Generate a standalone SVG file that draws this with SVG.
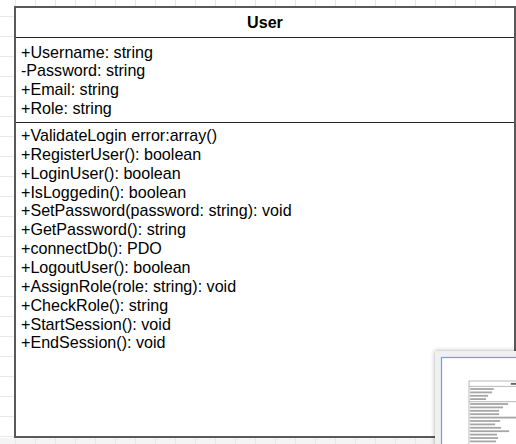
<svg xmlns="http://www.w3.org/2000/svg" width="516" height="444" viewBox="0 0 516 444">
<style>
.grid line{stroke:#e8e8e8;stroke-width:1}
.t{font-family:"Liberation Sans",Arial,Helvetica,sans-serif;font-size:16.1px;fill:#000}
.h{font-weight:bold;text-anchor:middle}
.box{fill:#fff;stroke:#595959;stroke-width:2}
.sep{stroke:#262626;stroke-width:1.2}
.mb{fill:#a6a6a6}
.msep{stroke:#8a8a8a;stroke-width:0.6}
</style>
<defs>
<filter id="sh" x="-20%" y="-20%" width="140%" height="140%">
<feDropShadow dx="0" dy="0" stdDeviation="2.2" flood-color="#000" flood-opacity="0.35"/>
</filter>
<clipPath id="mclip"><rect x="442" y="358" width="74" height="86"/></clipPath>
</defs>
<rect x="0" y="0" width="516" height="444" fill="#fff"/>
<rect x="0" y="438" width="516" height="6" fill="#f4f4f4"/>
<g class="grid">
<line x1="15.5" y1="0" x2="15.5" y2="444"/><line x1="35.5" y1="0" x2="35.5" y2="444"/><line x1="55.5" y1="0" x2="55.5" y2="444"/><line x1="75.5" y1="0" x2="75.5" y2="444"/><line x1="95.5" y1="0" x2="95.5" y2="444"/><line x1="115.5" y1="0" x2="115.5" y2="444"/><line x1="135.5" y1="0" x2="135.5" y2="444"/><line x1="155.5" y1="0" x2="155.5" y2="444"/><line x1="175.5" y1="0" x2="175.5" y2="444"/><line x1="195.5" y1="0" x2="195.5" y2="444"/><line x1="215.5" y1="0" x2="215.5" y2="444"/><line x1="235.5" y1="0" x2="235.5" y2="444"/><line x1="255.5" y1="0" x2="255.5" y2="444"/><line x1="275.5" y1="0" x2="275.5" y2="444"/><line x1="295.5" y1="0" x2="295.5" y2="444"/><line x1="315.5" y1="0" x2="315.5" y2="444"/><line x1="335.5" y1="0" x2="335.5" y2="444"/><line x1="355.5" y1="0" x2="355.5" y2="444"/><line x1="375.5" y1="0" x2="375.5" y2="444"/><line x1="395.5" y1="0" x2="395.5" y2="444"/><line x1="415.5" y1="0" x2="415.5" y2="444"/><line x1="435.5" y1="0" x2="435.5" y2="444"/><line x1="455.5" y1="0" x2="455.5" y2="444"/><line x1="475.5" y1="0" x2="475.5" y2="444"/><line x1="495.5" y1="0" x2="495.5" y2="444"/>
<line x1="0" y1="16.5" x2="516" y2="16.5"/><line x1="0" y1="36.5" x2="516" y2="36.5"/><line x1="0" y1="56.5" x2="516" y2="56.5"/><line x1="0" y1="76.5" x2="516" y2="76.5"/><line x1="0" y1="96.5" x2="516" y2="96.5"/><line x1="0" y1="116.5" x2="516" y2="116.5"/><line x1="0" y1="136.5" x2="516" y2="136.5"/><line x1="0" y1="156.5" x2="516" y2="156.5"/><line x1="0" y1="176.5" x2="516" y2="176.5"/><line x1="0" y1="196.5" x2="516" y2="196.5"/><line x1="0" y1="216.5" x2="516" y2="216.5"/><line x1="0" y1="236.5" x2="516" y2="236.5"/><line x1="0" y1="256.5" x2="516" y2="256.5"/><line x1="0" y1="276.5" x2="516" y2="276.5"/><line x1="0" y1="296.5" x2="516" y2="296.5"/><line x1="0" y1="316.5" x2="516" y2="316.5"/><line x1="0" y1="336.5" x2="516" y2="336.5"/><line x1="0" y1="356.5" x2="516" y2="356.5"/><line x1="0" y1="376.5" x2="516" y2="376.5"/><line x1="0" y1="396.5" x2="516" y2="396.5"/><line x1="0" y1="416.5" x2="516" y2="416.5"/><line x1="0" y1="436.5" x2="516" y2="436.5"/>
</g>
<g id="connectors"></g>
<g id="node-user">
<rect class="box" x="15" y="7" width="500" height="430"/>
<line class="sep" x1="16" y1="37.5" x2="514" y2="37.5"/>
<line class="sep" x1="16" y1="122.5" x2="514" y2="122.5"/>
<text class="t h" x="265" y="28">User</text>
<text class="t" x="21" y="57.5">+Username: string</text>
<text class="t" x="21" y="76.2">-Password: string</text>
<text class="t" x="21" y="94.9">+Email: string</text>
<text class="t" x="21" y="113.6">+Role: string</text>
<text class="t" x="21" y="141">+ValidateLogin error:array()</text>
<text class="t" x="21" y="159.9">+RegisterUser(): boolean</text>
<text class="t" x="21" y="178.7">+LoginUser(): boolean</text>
<text class="t" x="21" y="197.6">+IsLoggedin(): boolean</text>
<text class="t" x="21" y="216.4">+SetPassword(password: string): void</text>
<text class="t" x="21" y="235.3">+GetPassword(): string</text>
<text class="t" x="21" y="254.1">+connectDb(): PDO</text>
<text class="t" x="21" y="273">+LogoutUser(): boolean</text>
<text class="t" x="21" y="291.8">+AssignRole(role: string): void</text>
<text class="t" x="21" y="310.7">+CheckRole(): string</text>
<text class="t" x="21" y="329.5">+StartSession(): void</text>
<text class="t" x="21" y="348.4">+EndSession(): void</text>
</g>
<g id="minimap">
<rect x="435" y="351" width="90" height="100" fill="#f0f0f0" filter="url(#sh)"/>
<rect x="441.5" y="357.5" width="80" height="90" fill="#fff" stroke="#6f9cee" stroke-width="1.2"/>
<g clip-path="url(#mclip)">
<rect x="469" y="381" width="90" height="77.4" fill="#fff" stroke="#8a8a8a" stroke-width="0.6"/>
<line class="msep" x1="469" y1="386.4" x2="559" y2="386.4"/>
<line class="msep" x1="469" y1="401.7" x2="559" y2="401.7"/>
<rect x="510.8" y="382.9" width="6.4" height="1.9" fill="#666"/>
<rect class="mb" x="470.1" y="388.1" width="23.6" height="1.8"/>
<rect class="mb" x="470.1" y="391.5" width="22" height="1.8"/>
<rect class="mb" x="470.1" y="394.9" width="18" height="1.8"/>
<rect class="mb" x="470.1" y="398.2" width="16" height="1.8"/>
<rect class="mb" x="470.1" y="403.1" width="38" height="1.8"/>
<rect class="mb" x="470.1" y="406.5" width="33" height="1.8"/>
<rect class="mb" x="470.1" y="409.9" width="29" height="1.8"/>
<rect class="mb" x="470.1" y="413.3" width="29" height="1.8"/>
<rect class="mb" x="470.1" y="416.7" width="49" height="1.8"/>
<rect class="mb" x="470.1" y="420.1" width="30" height="1.8"/>
<rect class="mb" x="470.1" y="423.5" width="25" height="1.8"/>
<rect class="mb" x="470.1" y="426.9" width="31" height="1.8"/>
<rect class="mb" x="470.1" y="430.3" width="39" height="1.8"/>
<rect class="mb" x="470.1" y="433.7" width="27" height="1.8"/>
<rect class="mb" x="470.1" y="437.1" width="28" height="1.8"/>
<rect class="mb" x="470.1" y="440.5" width="26" height="1.8"/>
</g>
</g>
</svg>
